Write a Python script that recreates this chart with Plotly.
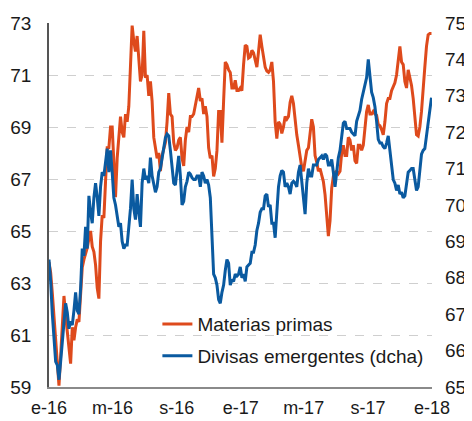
import pandas as pd
import plotly.graph_objects as go

# Materias primas (left axis)
materias = [
    63.8, 63.4, 62.6, 61.7, 60.5, 59.6, 59.05, 60.2, 61.5, 62.5, 61.75, 61.1, 60.3, 59.9, 61.3, 60.8, 61.3, 61.6, 61.5, 62.5,
    63.6, 63.9, 64.1, 64.35, 64.7, 65.0, 64.4, 64.2, 63.7, 62.8, 62.4, 64.6, 65.6, 65.5, 66.9, 68.2, 68.2, 69.0, 69.0, 67.9,
    66.3, 67.8, 68.8,
    69.4, 68.8, 68.6, 69.5, 69.2, 69.8, 71.2, 72.9, 72.3, 71.9, 72.5, 71.6, 70.75, 71.0, 72.7, 70.9, 71.0, 70.2, 70.75, 70.0,
    68.6, 68.2, 67.8, 68.0, 67.3, 67.9, 68.2, 68.4, 69.2, 70.3, 69.5, 69.4, 68.4, 68.1, 68.2, 68.5, 68.6, 67.8, 67.5, 68.5,
    69.0, 68.8, 69.4, 69.4, 69.5,
    69.8, 70.2, 70.5, 70.0, 70.1, 69.5, 69.8, 69.4, 68.2, 67.8, 67.9, 67.1, 67.4, 68.1, 69.6, 69.6, 68.4, 70.0, 71.5, 71.4,
    71.2, 71.1, 70.5, 70.5, 70.8, 70.4, 70.4, 70.5, 70.4, 71.4, 72.15, 72.1, 71.65, 71.7, 71.95, 71.85, 71.5, 71.3, 71.9, 72.55,
    72.1, 71.6, 71.3, 71.15, 71.1,
    71.2, 71.5, 70.75, 69.2, 68.55, 69.2, 69.1, 68.75, 69.0, 69.4, 69.3, 69.4, 69.95, 70.2, 69.9, 69.2, 68.7, 68.3, 67.9, 67.45,
    67.3, 67.8, 68.1, 68.2, 68.9, 69.3, 69.0, 67.9, 67.65, 67.3, 67.4, 67.15, 66.9, 66.4, 65.6, 64.8, 65.4, 66.65, 67.1, 67.25,
    67.3, 67.2, 67.3, 68.0, 68.3,
    67.9, 67.9, 68.6, 68.5, 68.1, 68.3, 67.7, 67.6, 68.3, 68.3, 68.1, 68.3, 68.9, 69.6, 69.85, 69.5, 69.5, 69.6, 69.5, 69.45,
    69.1, 69.05, 68.9, 68.7, 69.2, 69.9, 70.1, 70.1, 70.4, 70.55, 70.7, 71.0, 71.5, 72.1, 71.5, 71.4, 70.75, 70.5, 71.2, 70.95,
    70.6, 70.1, 69.3, 68.7, 68.65, 69.0, 69.6, 70.3, 71.3, 72.1, 72.55, 72.6, 72.6,
]

# Divisas emergentes (right axis)
divisas = [
    68.5, 67.9, 67.0, 66.2, 65.7, 65.6, 65.2, 65.7, 66.2, 66.7, 67.3, 67.05, 66.6, 66.8, 66.7, 67.1, 67.6, 67.1, 67.0, 67.7,
    68.8, 68.6, 69.4, 68.8, 70.25, 69.8, 69.5, 70.2, 70.6, 70.2, 69.7, 70.5, 70.9, 70.8, 71.2, 71.55, 70.9, 71.5, 70.9, 70.2,
    70.0, 69.7, 69.4,
    69.5, 69.0, 68.8, 68.9, 68.9, 69.4, 69.9, 70.7, 69.9, 69.6, 70.3, 69.8, 69.4, 70.6, 71.0, 70.7, 70.8, 70.6, 71.3, 70.8,
    70.55, 70.35, 70.5, 70.9, 71.0, 71.3, 71.6, 71.85, 71.95, 71.9, 71.5, 71.0, 70.6, 70.55, 71.0, 71.35, 70.8, 70.0, 70.1, 70.5,
    70.65, 70.9, 70.85, 70.75, 70.7,
    70.7, 70.8, 70.8, 70.5, 70.9, 70.8, 70.6, 70.7, 70.55, 70.2, 68.9, 68.1, 68.0, 67.8, 67.4, 67.3, 67.6, 67.8, 68.2, 68.5,
    68.4, 67.8, 67.95, 67.9, 68.1, 68.05, 68.1, 68.3, 68.0, 68.1, 67.9, 68.3, 68.35, 68.4, 68.7, 68.7, 68.9, 69.3, 69.5, 69.8,
    69.9, 69.9, 70.25, 70.3, 69.95,
    70.0, 69.5, 69.5, 69.1, 69.7, 70.5, 70.8, 70.95, 70.9, 70.5, 70.6, 70.5, 70.3, 70.6, 70.65, 70.6, 70.5, 70.9, 71.1, 70.6,
    70.1, 69.75, 70.6, 71.0, 70.8, 70.8, 71.1, 71.1, 71.1, 71.25, 71.3, 71.35, 71.25, 71.4, 71.35, 71.1, 71.1, 71.25, 70.9, 70.5,
    70.9, 71.3, 71.5, 71.9, 72.25,
    72.3, 72.1, 72.1, 72.1, 72.0, 71.95, 71.9, 72.3, 72.45, 72.6, 72.9, 73.1, 73.3, 73.5, 74.0, 73.45, 73.1, 72.95, 72.7, 72.3,
    71.8, 71.7, 71.7, 71.6, 71.55, 71.7, 71.9, 71.5, 71.0, 70.7, 70.6, 70.4, 70.55, 70.3, 70.35, 70.2, 70.25, 70.6, 70.9, 70.95,
    71.0, 71.0, 70.7, 70.4, 70.5, 71.0, 71.4, 71.5, 71.55, 71.9, 72.2, 72.6, 72.95,
]

dates = pd.date_range("2016-01-01", "2017-12-31", periods=len(materias))

tick_dates = ["2016-01-01", "2016-05-01", "2016-09-01", "2017-01-01", "2017-05-01", "2017-09-01", "2018-01-01"]
tick_labels = ["e-16", "m-16", "s-16", "e-17", "m-17", "s-17", "e-18"]
left_ticks = [59, 61, 63, 65, 67, 69, 71, 73]
right_ticks = [65, 66, 67, 68, 69, 70, 71, 72, 73, 74, 75]

ORANGE = "#DE4A1C"
BLUE = "#0A5AA0"
FONT = "Liberation Sans, Arial, sans-serif"

fig = go.Figure()
fig.add_trace(go.Scatter(x=dates, y=materias, name="Materias primas", mode="lines",
                         line=dict(color=ORANGE, width=3), yaxis="y", legendgroup="a"))
fig.add_trace(go.Scatter(x=dates, y=divisas, name="Divisas emergentes (dcha)", mode="lines",
                         line=dict(color=BLUE, width=3), yaxis="y2", legendgroup="b"))

# page body has an 8px margin, so the figure is 8px smaller and margins offset
fig.update_layout(
    width=464, height=413,
    margin=dict(l=41, r=40, t=15, b=34, autoexpand=False),
    paper_bgcolor="white", plot_bgcolor="white",
    font=dict(family=FONT, size=19, color="#1a1a1a"),
    showlegend=True,
    legend=dict(x=0.283, y=0.225, xanchor="left", yanchor="top", bgcolor="rgba(0,0,0,0)",
                font=dict(size=19, color="#1a1a1a"), tracegroupgap=4, itemwidth=30),
    xaxis=dict(range=["2016-01-01", "2018-01-01"], tickvals=tick_dates, ticktext=tick_labels,
               tickfont=dict(size=18),
               showgrid=False, showline=True, linecolor="#8a8a8a", linewidth=1.5,
               ticks="", ticklabelstandoff=4, zeroline=False, automargin=False),
    yaxis=dict(range=[59, 73], tickvals=left_ticks, showgrid=True, gridcolor="#cfcfcf",
               griddash="dash", gridwidth=1, showline=True, linecolor="#555555", linewidth=1.5,
               ticks="", ticklabelstandoff=12, zeroline=False, automargin=False),
    yaxis2=dict(range=[65, 75], tickvals=right_ticks, overlaying="y", side="right",
                showgrid=False, showline=False, ticks="", ticklabelstandoff=12, zeroline=False,
                automargin=False),
)

fig.write_html("out.html")
